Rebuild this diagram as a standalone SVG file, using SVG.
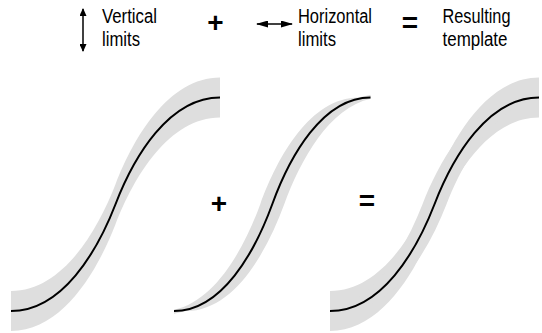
<svg xmlns="http://www.w3.org/2000/svg" width="542" height="333" viewBox="0 0 542 333">
<style>
.band{fill:#dedede;stroke:none}
.curve{fill:none;stroke:#000;stroke-width:2}
.lbl{font-family:"Liberation Sans Narrow","Liberation Sans",Arial,sans-serif;font-size:20px;fill:#000}
.op{font-family:"Liberation Sans",Arial,sans-serif;font-size:28px;font-weight:bold;fill:#000;text-anchor:middle}
.arr{stroke:#000;stroke-width:1.5;fill:none}
</style>
<defs>
<marker id="hv" viewBox="0 0 8 7" refX="7" refY="3.5" markerWidth="8" markerHeight="7" markerUnits="userSpaceOnUse" orient="auto-start-reverse"><path d="M0,0 L8,3.5 L0,7 Z" fill="#000"/></marker>
<marker id="hh" viewBox="0 0 12 7" refX="11" refY="3.5" markerWidth="12" markerHeight="7" markerUnits="userSpaceOnUse" orient="auto-start-reverse"><path d="M0,0 L12,3.5 L0,7 Z" fill="#000"/></marker>
<clipPath id="c2"><rect x="174" y="0" width="196.5" height="333"/></clipPath>
<clipPath id="c3"><rect x="330" y="0" width="209" height="333"/></clipPath>
</defs>

<g id="legend-vertical">
<path class="arr" d="M83,9 L83,51" marker-start="url(#hv)" marker-end="url(#hv)"/>
<text class="lbl" x="102" y="23" textLength="55" lengthAdjust="spacingAndGlyphs">Vertical</text>
<text class="lbl" x="102" y="45.5" textLength="38" lengthAdjust="spacingAndGlyphs">limits</text>
</g>
<text id="legend-plus" class="op" x="215.5" y="32">+</text>
<g id="legend-horizontal">
<path class="arr" d="M257,24 L292,24" marker-start="url(#hh)" marker-end="url(#hh)"/>
<text class="lbl" x="298" y="23" textLength="74" lengthAdjust="spacingAndGlyphs">Horizontal</text>
<text class="lbl" x="298" y="45.5" textLength="38" lengthAdjust="spacingAndGlyphs">limits</text>
</g>
<text id="legend-equals" class="op" x="410" y="32">=</text>
<g id="legend-result">
<text class="lbl" x="442.5" y="23" textLength="68" lengthAdjust="spacingAndGlyphs">Resulting</text>
<text class="lbl" x="442.5" y="45.5" textLength="65" lengthAdjust="spacingAndGlyphs">template</text>
</g>

<g id="panel-vertical">
<path class="band" d="M11,291 C62,291 97,232 115.5,184.25 S169,77.5 220,77.5 L220,117.5 C169,117.5 134,176.5 115.5,224.25 S62,331 11,331 Z"/>
<path class="curve" d="M11,311 C62,311 97,252 115.5,204.25 S169,97.5 220,97.5"/>
</g>

<text id="op-plus" class="op" x="219" y="212.5">+</text>

<g id="panel-horizontal">
<path class="band" clip-path="url(#c2)" d="M140,311 L162,311 C210,311 242.8,252 260.25,204.25 S310.5,97.5 358.5,97.5 L410,86 L410,97.5 L382.5,97.5 C334.5,97.5 301.7,156.5 284.25,204.25 S234,311 186,311 L140,322 Z"/>
<path class="curve" d="M174,311 C222,311 254.8,252 272.25,204.25 S322.5,97.5 370.5,97.5"/>
</g>

<text id="op-equals" class="op" x="367" y="210">=</text>

<g id="panel-result">
<path class="band" d="M330,291 C381,291 416,232 434.5,184.25 S488,77.5 539,77.5 L539,117.5 C488,117.5 453,176.5 434.5,224.25 S381,331 330,331 Z"/>
<path class="band" clip-path="url(#c3)" d="M300,311 L318,311 C369,311 404,252 422.5,204.25 S476,97.5 527,97.5 L560,97.5 L551,97.5 C500,97.5 465,156.5 446.5,204.25 S393,311 342,311 Z"/>
<path class="curve" d="M330,311 C381,311 416,252 434.5,204.25 S488,97.5 539,97.5"/>
</g>
</svg>
